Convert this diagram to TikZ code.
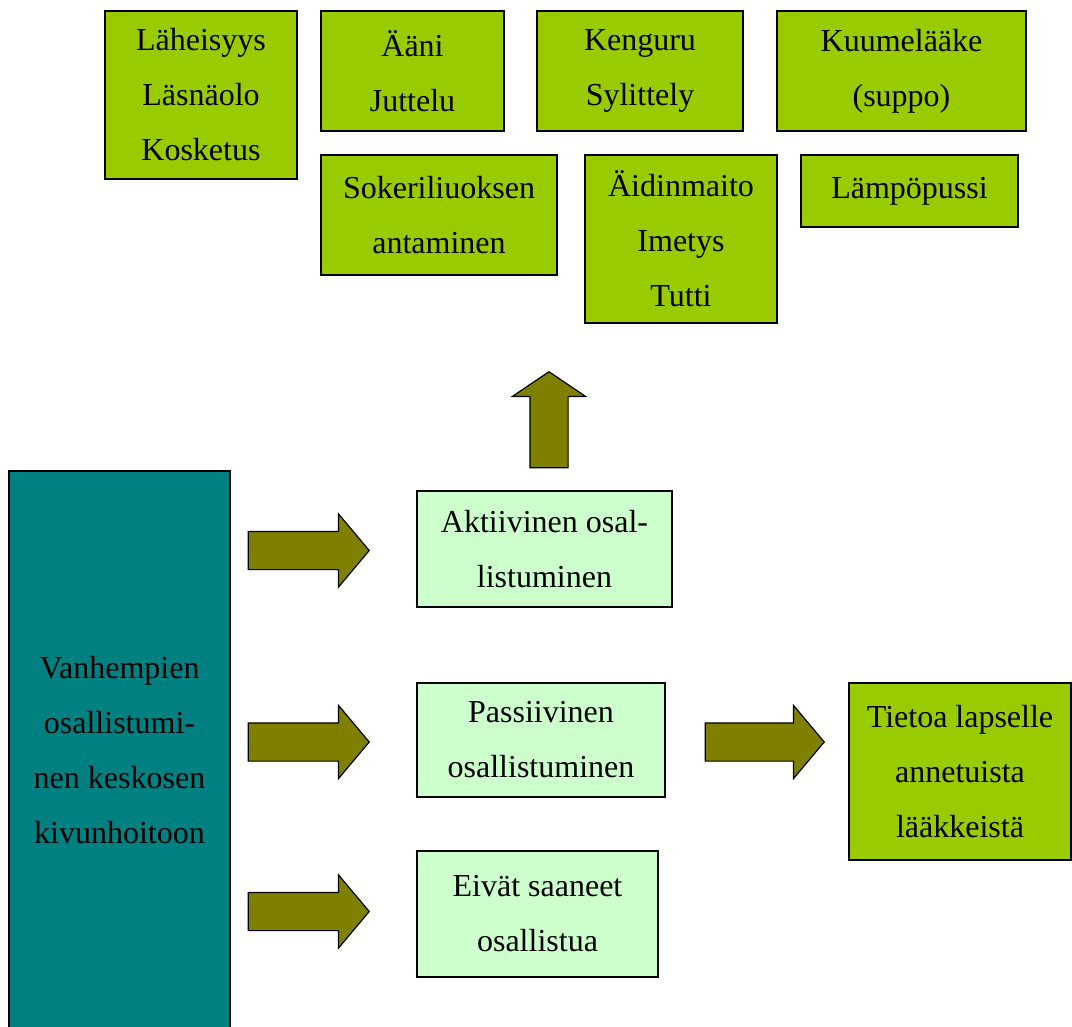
\documentclass[tikz,border=0pt]{standalone}
\usepackage{fontspec}
\setmainfont{Liberation Serif}
\usepackage{tikz}
\usetikzlibrary{shapes.arrows}

\definecolor{lehti}{HTML}{99CC00}
\definecolor{vaalea}{HTML}{CCFFCC}
\definecolor{petrooli}{HTML}{008080}
\definecolor{oliivi}{HTML}{808000}

\begin{document}
\begin{tikzpicture}[x=1pt,y=-1pt,
  every node/.style={font=\fontsize{32}{55}\selectfont},
  laatikko/.style={rectangle,draw,line width=1.5pt,align=center,inner sep=0pt},
  keino/.style={laatikko,fill=lehti},
  tapa/.style={laatikko,fill=vaalea},
  nuoliO/.style={single arrow,draw,fill=oliivi,line width=1.2pt,anchor=tip,minimum height=121pt,minimum width=72pt,inner xsep=0pt,inner ysep=18.5pt,single arrow head extend=17.5pt,single arrow tip angle=100},
  nuoliY/.style={nuoliO,rotate=90,minimum height=96pt,single arrow tip angle=112}]
\clip (0,0) rectangle (1072,1027);
% keinot ylhaalla
\node [keino,minimum width=192pt,minimum height=168pt] (lahei) at (201,95) {Läheisyys\\Läsnäolo\\Kosketus};
\node [keino,minimum width=183pt,minimum height=120pt] (aani) at (412.5,71) {Ääni\\Juttelu};
\node [keino,minimum width=206pt,minimum height=120pt] (kenguru) at (640,71) {Kenguru\\Sylittely};
\node [keino,minimum width=249pt,minimum height=120pt] (kuume) at (901.5,71) {Kuumelääke\\(suppo)};
\node [keino,minimum width=236pt,minimum height=120pt] (sokeri) at (439,215) {Sokeriliuoksen\\antaminen};
\node [keino,minimum width=192pt,minimum height=168pt] (aidin) at (681,239) {Äidinmaito\\Imetys\\Tutti};
\node [keino,minimum width=217pt,minimum height=72pt] (lampo) at (909.5,191) {Lämpöpussi};
% osallistumisen tavat
\node [laatikko,fill=petrooli,minimum width=221pt,minimum height=558pt] (vanh) at (119.5,750) {Vanhempien\\osallistumi-\\nen keskosen\\kivunhoitoon};
\node [tapa,minimum width=255pt,minimum height=116pt] (aktiivi) at (544.5,549) {Aktiivinen osal-\\listuminen};
\node [tapa,minimum width=248pt,minimum height=114pt] (passiivi) at (541,740) {Passiivinen\\osallistuminen};
\node [tapa,minimum width=241pt,minimum height=126pt] (eivat) at (537.5,914) {Eivät saaneet\\osallistua};
\node [keino,minimum width=222pt,minimum height=177pt] (tietoa) at (960,771.5) {Tietoa lapselle\\annetuista\\lääkkeistä};
% nuolet
\node [nuoliO] (nAkt) at (370,550.5) {};
\node [nuoliO] (nPas) at (370,742) {};
\node [nuoliO] (nEiv) at (370,911.5) {};
\node [nuoliO,minimum height=119pt] (nTie) at (825,742) {};
\node [nuoliY] (nYlos) at (549,371) {};
\end{tikzpicture}
\end{document}
